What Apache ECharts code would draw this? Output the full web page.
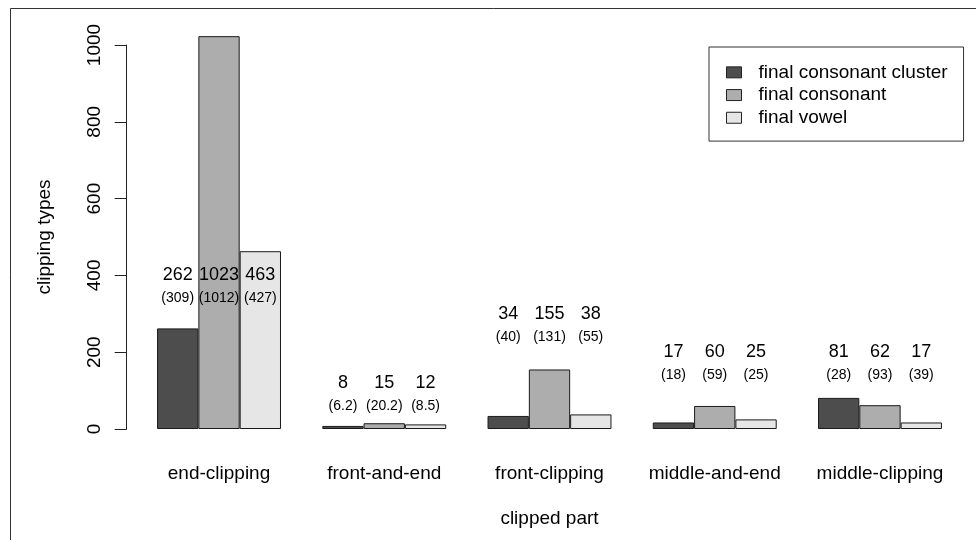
<!DOCTYPE html>
<html><head><meta charset="utf-8">
<script src="https://cdn.jsdelivr.net/npm/echarts@6/dist/echarts.min.js"></script>
<style>html,body{margin:0;padding:0;background:#fff}#c{width:976px;height:540px}</style>
</head><body><div id="c"></div>
<script>
// ---- data ----
const categories = ['end-clipping', 'front-and-end', 'front-clipping', 'middle-and-end', 'middle-clipping'];
const seriesNames = ['final consonant cluster', 'final consonant', 'final vowel'];
const clusterCounts = [262, 8, 34, 17, 81];
const consonantCounts = [1023, 15, 155, 60, 62];
const vowelCounts = [463, 12, 38, 25, 17];
const clusterExpected = [309, 6.2, 40, 18, 28];
const consonantExpected = [1012, 20.2, 131, 59, 93];
const vowelExpected = [427, 8.5, 55, 25, 39];
const yTickValues = [0, 200, 400, 600, 800, 1000];

// ---- layout / style ----
const FONT = 'Liberation Sans, Arial, Helvetica, sans-serif';
const TEXT = '#000';
const colors = ['#4d4d4d', '#adadad', '#e6e6e6'];
const annotationLevel = [400, 120, 300, 200, 200]; // y (data units) of the count annotations
const expectedDrop = 60; // the bracketed line sits this far below (data units)

const counts = [clusterCounts, consonantCounts, vowelCounts];
const expected = [clusterExpected, consonantExpected, vowelExpected];

const countPts = [], expPts = [];
categories.forEach((c, g) => {
  for (let s = 0; s < 3; s++) {
    const x = g + 0.5 + (s - 1) * 0.25;
    countPts.push([x, annotationLevel[g], counts[s][g]]);
    expPts.push([x, annotationLevel[g] - expectedDrop, '(' + expected[s][g] + ')']);
  }
});

const chart = echarts.init(document.getElementById('c'), null, {renderer: 'canvas'});
const barSeries = seriesNames.map((n, i) => ({
  name: n, type: 'bar', data: counts[i], xAxisIndex: 0, yAxisIndex: 0,
  barWidth: '25%', barGap: '0%', clip: false,
  itemStyle: {color: colors[i], borderColor: '#1a1a1a', borderWidth: 1},
  emphasis: {disabled: true}
}));

const yScale = {type: 'value', min: 0, max: 1000, interval: 200};
const annLabel = {show: true, position: 'inside', color: TEXT, fontFamily: FONT,
  opacity: 1, textBorderWidth: 0, textShadowBlur: 0};

chart.setOption({
  animation: false,
  backgroundColor: '#fff',
  textStyle: {fontFamily: FONT},
  grid: [
    {left: 136.4, right: 13.4, top: 45, bottom: 111, containLabel: false, outerBoundsMode: 'none'},
    {left: 126.7, right: 13.4, top: 45, bottom: 111, containLabel: false, outerBoundsMode: 'none'}
  ],
  xAxis: [{
    type: 'category', data: categories, gridIndex: 0,
    axisLine: {show: false}, axisTick: {show: false},
    axisLabel: {fontSize: 19, color: TEXT, margin: 35, fontFamily: FONT, interval: 0},
    name: 'clipped part', nameLocation: 'middle', nameGap: 80, nameMoveOverlap: false,
    nameTextStyle: {fontSize: 19, color: TEXT, fontFamily: FONT}
  }, {
    type: 'value', min: 0, max: 5, show: false, gridIndex: 0
  }, {
    type: 'value', min: 0, max: 1, show: false, gridIndex: 1
  }],
  yAxis: [Object.assign({}, yScale, {gridIndex: 0, show: false}),
    Object.assign({}, yScale, {
    gridIndex: 1,
    axisLine: {show: true, lineStyle: {color: '#222', width: 1}},
    axisTick: {show: true, length: 12, lineStyle: {color: '#222', width: 1}},
    axisLabel: {rotate: 90, margin: 22, fontSize: 19, color: TEXT, fontFamily: FONT,
      formatter: v => (yTickValues.indexOf(v) >= 0 ? String(v) : '')},
    splitLine: {show: false},
    name: 'clipping types', nameLocation: 'middle', nameGap: 72, nameMoveOverlap: false,
    nameTextStyle: {fontSize: 19, color: TEXT, fontFamily: FONT}
  })],
  legend: {
    data: seriesNames, orient: 'vertical', left: 709, top: 47,
    itemWidth: 15, itemHeight: 11, itemGap: 0, icon: 'rect',
    padding: [14, 16, 12, 17],
    borderColor: '#333', borderWidth: 1, borderRadius: 0,
    selectedMode: false,
    textStyle: {fontSize: 19, color: TEXT, fontFamily: FONT, lineHeight: 22.7, padding: [0, 0, 0, 12]},
    itemStyle: {borderColor: '#222', borderWidth: 1}
  },
  graphic: [{
    type: 'rect', silent: true, z: 100,
    shape: {x: 10.5, y: 8.5, width: 1200, height: 800},
    style: {fill: null, stroke: '#333', lineWidth: 1}
  }],
  series: barSeries.concat([{
    type: 'scatter', xAxisIndex: 1, yAxisIndex: 0, data: countPts, symbolSize: 1,
    itemStyle: {color: 'rgba(0,0,0,0)'}, silent: true, clip: false,
    label: Object.assign({}, annLabel, {fontSize: 18, formatter: p => String(p.data[2])})
  }, {
    type: 'scatter', xAxisIndex: 1, yAxisIndex: 0, data: expPts, symbolSize: 1,
    itemStyle: {color: 'rgba(0,0,0,0)'}, silent: true, clip: false,
    label: Object.assign({}, annLabel, {fontSize: 14, formatter: p => p.data[2]})
  }])
});
</script></body></html>
